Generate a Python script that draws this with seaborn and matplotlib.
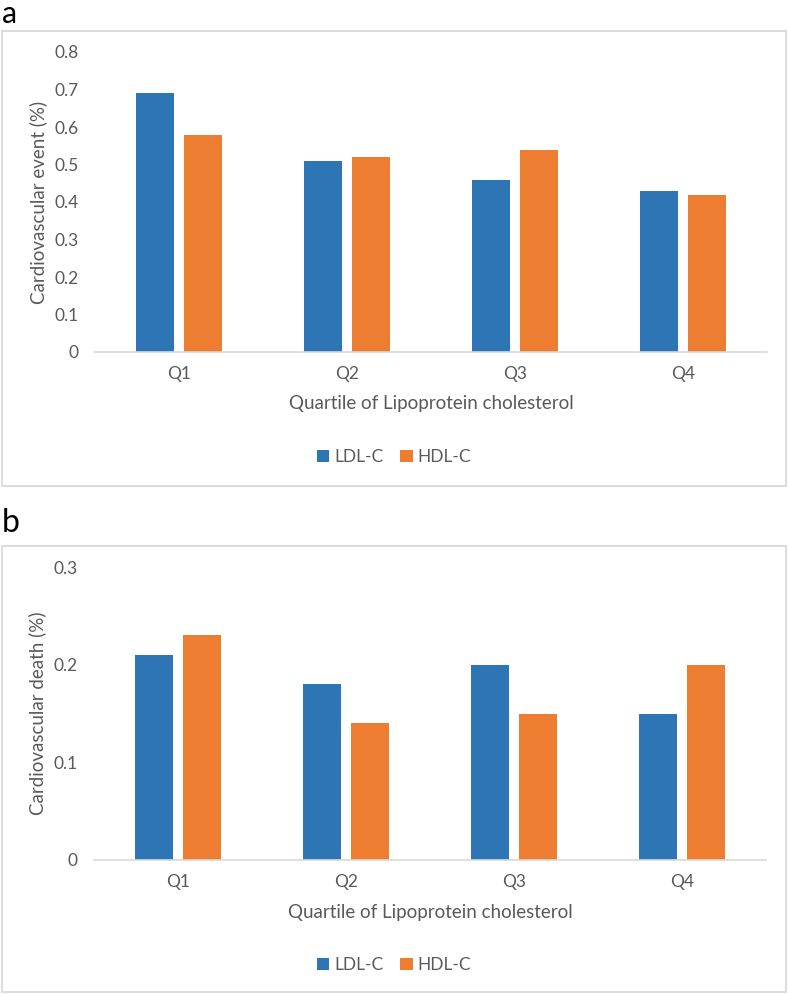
import pandas as pd
import seaborn as sns
import matplotlib.pyplot as plt
from matplotlib.patches import Rectangle

quartiles = ['Q1', 'Q2', 'Q3', 'Q4']
series = ['LDL-C', 'HDL-C']

# panel a - cardiovascular event (%)
event_ldl = [0.69, 0.51, 0.46, 0.43]
event_hdl = [0.58, 0.52, 0.54, 0.42]

# panel b - cardiovascular death (%)
death_ldl = [0.21, 0.18, 0.20, 0.15]
death_hdl = [0.23, 0.14, 0.15, 0.20]

event_ticks = [0, 0.1, 0.2, 0.3, 0.4, 0.5, 0.6, 0.7, 0.8]
death_ticks = [0, 0.1, 0.2, 0.3]


def long_df(ldl, hdl):
    return pd.DataFrame({
        'quartile': quartiles * 2,
        'series': ['LDL-C'] * 4 + ['HDL-C'] * 4,
        'value': ldl + hdl,
    })


sns.set_theme(style='white')
plt.rcParams['font.family'] = ['Lato', 'DejaVu Sans']
grey = '#595959'
pal = {'LDL-C': '#2E75B6', 'HDL-C': '#ED7D31'}

W, H = 788, 994
fig = plt.figure(figsize=(W / 100, H / 100), dpi=100)


def px_axes(left, right, top, bottom):
    return fig.add_axes([left / W, 1 - bottom / H, (right - left) / W, (bottom - top) / H])


def draw_panel(ax, df, ticks, ylab, leg_y, xlab_y):
    sns.barplot(data=df, x='quartile', y='value', hue='series', hue_order=series,
                palette=pal, width=0.566, gap=0.2, saturation=1, ax=ax,
                edgecolor='none', legend=True)
    ax.set_ylim(0, ticks[-1])
    ax.set_yticks(ticks)
    ax.set_yticklabels(['0' if t == 0 else f'{t:g}' for t in ticks])
    ax.set_xlim(-0.5, 3.5)
    for s in ['top', 'right', 'left']:
        ax.spines[s].set_visible(False)
    ax.spines['bottom'].set_color('#d9d9d9')
    ax.spines['bottom'].set_linewidth(1.2)
    ax.tick_params(axis='both', length=0, labelsize=12.5, labelcolor=grey)
    ax.tick_params(axis='y', pad=12)
    ax.tick_params(axis='x', pad=10)
    ax.set_ylabel(ylab, fontsize=13.5, color=grey)
    ax.yaxis.set_label_coords(-0.071, 0.5)
    ax.set_xlabel('Quartile of Lipoprotein cholesterol', fontsize=13.5, color=grey)
    ax.xaxis.set_label_coords(0.5, xlab_y)
    h, l = ax.get_legend_handles_labels()
    ax.legend(h, l, loc='center', bbox_to_anchor=(0.5, 1 - leg_y / H),
              bbox_transform=fig.transFigure, ncol=2, frameon=False,
              handlelength=0.7, handleheight=0.7, handletextpad=0.3,
              columnspacing=1.0, fontsize=12.5, labelcolor=grey)


ax_a = px_axes(95, 767, 52, 352)
draw_panel(ax_a, long_df(event_ldl, event_hdl), event_ticks,
           'Cardiovascular event (%)', 457, -0.145)

ax_b = px_axes(94, 766, 567, 860)
draw_panel(ax_b, long_df(death_ldl, death_hdl), death_ticks,
           'Cardiovascular death (%)', 965, -0.15)

# panel frames
for top, bottom in [(31, 486), (546, 992)]:
    fig.patches.append(Rectangle((2 / W, 1 - bottom / H), 784 / W, (bottom - top) / H,
                                 transform=fig.transFigure, fill=False,
                                 edgecolor='#d9d9d9', linewidth=1.3))

fig.text(2 / W, 1.0, 'a', fontsize=22, color='black', va='top', ha='left')
fig.text(2 / W, 1 - 532 / H, 'b', fontsize=23, color='black', va='baseline', ha='left')

fig.savefig('out.png', dpi=100)
